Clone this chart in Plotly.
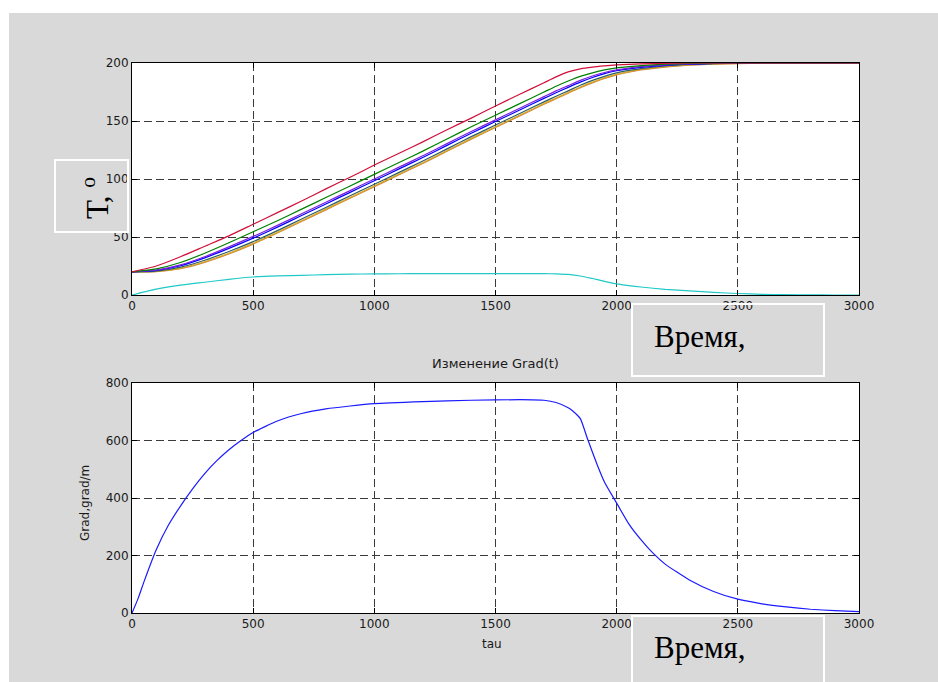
import plotly.graph_objects as go

# ---------------- data ----------------
t_top = [0, 100, 200, 300, 400, 500, 600, 700, 800, 900, 1000, 1100, 1200, 1300, 1400,
         1500, 1600, 1700, 1750, 1800, 1850, 1900, 1950, 2000, 2050, 2100, 2200, 2300, 2400, 2500,
         2600, 2700, 2800, 2900, 3000]

T_red = [20, 25, 33, 42, 51, 61, 71, 81, 91.5, 101.5, 112, 122, 132, 142.5, 152.5,
         163, 173, 183, 188, 192.3, 195, 196.5, 197.5, 198.3, 198.8, 199.2, 199.7, 200, 200, 200,
         200, 200, 200, 200, 200]
T_green = [20, 22.5, 28, 36, 45, 54.5, 64, 74, 84, 94, 104, 114, 124, 134.5, 145,
           155, 165, 175, 180, 184.5, 188.5, 191.5, 194, 195.8, 196.9, 197.8, 199, 199.6, 200, 200,
           200, 200, 200, 200, 200]
T_purple = [20, 21.5, 26, 33, 41.5, 50.5, 60, 70, 80, 90, 100, 110, 120, 130.5, 141,
            151, 161, 171, 176, 180.5, 185, 188.8, 191.8, 194, 195.6, 196.8, 198.4, 199.3, 199.8, 200,
            200, 200, 200, 200, 200]
T_blue = [20, 21.2, 25.2, 32, 40.2, 49, 58.5, 68.5, 78.5, 88.5, 98.5, 108.5, 118.5, 129, 139.5,
          149.5, 159.5, 169.5, 174.3, 179, 183.5, 187.5, 190.8, 193.3, 195, 196.3, 198, 199, 199.6, 199.9,
          200, 200, 200, 200, 200]
T_slate = [20, 20.5, 24, 30, 37.5, 46, 55.5, 65.5, 75.5, 85.5, 95.5, 105.5, 115.5, 126, 136.5,
           146.5, 156.5, 166.5, 171.3, 176, 180.8, 185, 188.5, 191.5, 193.6, 195.2, 197.4, 198.7, 199.4, 199.8,
           200, 200, 200, 200, 200]
T_orange = [20, 20.3, 23, 28.7, 36, 44.5, 54, 64, 74, 84, 94, 104, 114, 124.5, 135,
            145, 155, 165, 169.8, 174.5, 179.3, 183.5, 187.2, 190.3, 192.6, 194.4, 196.8, 198.3, 199.2, 199.6,
            199.9, 200, 200, 200, 200]
T_peru = [20, 20.1, 22.6, 28.1, 35.4, 43.9, 53.4, 63.4, 73.4, 83.4, 93.4, 103.4, 113.4, 123.9, 134.4,
          144.4, 154.4, 164.4, 169.2, 173.9, 178.7, 182.9, 186.6, 189.8, 192.1, 194, 196.5, 198.1, 199.1, 199.5,
          199.8, 200, 200, 200, 200]
T_cyan = [0, 5, 8.5, 11, 13.5, 15.5, 16.5, 17, 17.5, 18, 18.2, 18.3, 18.4, 18.5, 18.5,
          18.5, 18.5, 18.4, 18.2, 17.7, 16.4, 14.2, 11.8, 9.6, 8.1, 6.9, 4.9, 3.5, 2.2, 1.3,
          0.6, 0.3, 0.1, 0, 0]

t_grad = [0, 25, 50, 100, 150, 200, 250, 300, 350, 400, 450, 500, 600, 700, 800, 900, 1000,
          1200, 1400, 1600, 1700, 1750, 1800, 1820, 1850, 1880, 1920, 1950, 2000, 2050,
          2100, 2150, 2200, 2300, 2400, 2500, 2600, 2700, 2800, 2900, 3000]
grad = [0, 50, 110, 220, 305, 372, 432, 485, 530, 568, 600, 628, 668, 694, 710, 720, 728,
        735, 740, 742, 740, 732, 714, 702, 676, 605, 515, 455, 382, 310,
        255, 208, 170, 115, 75, 48, 32, 21, 13, 8, 5]

x_ticks = [0, 500, 1000, 1500, 2000, 2500, 3000]
y_ticks_top = [0, 50, 100, 150, 200]
y_ticks_bot = [0, 200, 400, 600, 800]

title_bottom = "Изменение Grad(t)"
xlabel_bottom = "tau"
ylabel_bottom = "Grad,grad/m"
ylabel_top = "Т, <sup>o</sup>"
time_label = "Время,"

# ---------------- figure ----------------
W, H = 938, 682
L, R, T, B = 132, 859, 63, 613


def px(p):
    return (p - L) / (R - L)


def py(p):
    return (B - p) / (B - T)


fig = go.Figure()

series = [
    (T_peru, "#cd853f"),
    (T_orange, "#daa520"),
    (T_slate, "#2f5f5f"),
    (T_blue, "#0000ff"),
    (T_purple, "#7b1fe0"),
    (T_green, "#008000"),
    (T_red, "#d0103a"),
]
for ys, c in series:
    fig.add_trace(go.Scatter(x=t_top, y=ys, mode="lines", line=dict(color=c, width=1.2, shape="spline", smoothing=0.6),
                             xaxis="x", yaxis="y", showlegend=False))
fig.add_trace(go.Scatter(x=t_top, y=T_cyan, mode="lines",
                         line=dict(color="#20c8c8", width=1.2, shape="spline", smoothing=0.6),
                         xaxis="x", yaxis="y", showlegend=False))
fig.add_trace(go.Scatter(x=t_grad, y=grad, mode="lines",
                         line=dict(color="#1a1aff", width=1.2, shape="spline", smoothing=0.5),
                         xaxis="x2", yaxis="y2", showlegend=False))

tickfont = dict(family="DejaVu Sans", size=12, color="#1a1a1a")
common = dict(showline=True, linecolor="black", linewidth=1, mirror="ticks",
              ticks="inside", ticklen=5, tickcolor="black", showgrid=True,
              gridcolor="#3a3a3a", griddash="8px,4px", gridwidth=1, zeroline=False,
              tickfont=tickfont, fixedrange=True)

top_dom = [py(295), 1.0]
bot_dom = [0.0, py(383)]

fig.update_layout(
    width=W, height=H,
    margin=dict(l=L, r=W - R, t=T, b=H - B, pad=0),
    paper_bgcolor="#d9d9d9",
    plot_bgcolor="white",
    hovermode=False,
    xaxis=dict(domain=[0, 1], range=[0, 3000], tickvals=x_ticks, anchor="y", **common),
    yaxis=dict(domain=top_dom, range=[0, 200], tickvals=y_ticks_top, anchor="x", **common),
    xaxis2=dict(domain=[0, 1], range=[0, 3000], tickvals=x_ticks, anchor="y2", **common),
    yaxis2=dict(domain=bot_dom, range=[0, 800], tickvals=y_ticks_bot, anchor="x2", **common),
)

shapes = [
    # white outer strips (left and top)
    dict(type="rect", xref="paper", yref="paper", x0=-0.5, x1=px(9), y0=-0.5, y1=1.5,
         fillcolor="white", line=dict(width=0)),
    dict(type="rect", xref="paper", yref="paper", x0=-0.5, x1=1.5, y0=py(13), y1=1.5,
         fillcolor="white", line=dict(width=0)),
    # label boxes
    dict(type="rect", xref="paper", yref="paper", x0=px(55), x1=px(128), y0=py(232), y1=py(160),
         fillcolor="rgba(0,0,0,0)", line=dict(color="white", width=2)),
    dict(type="rect", xref="paper", yref="paper", x0=px(632), x1=px(824), y0=py(376), y1=py(304),
         fillcolor="rgba(0,0,0,0)", line=dict(color="white", width=2)),
    dict(type="rect", xref="paper", yref="paper", x0=px(632), x1=px(824), y0=py(720), y1=py(616),
         fillcolor="rgba(0,0,0,0)", line=dict(color="white", width=2)),
]
fig.update_layout(shapes=shapes)

small = dict(family="DejaVu Sans", size=12, color="#1a1a1a")
serif = dict(family="Liberation Serif", size=31, color="black")
annotations = [
    dict(text=title_bottom, x=px(495), y=py(363), font=dict(family="DejaVu Sans", size=13, color="#1a1a1a")),
    dict(text=xlabel_bottom, x=px(492), y=py(644), font=small),
    dict(text=ylabel_bottom, x=px(85), y=py(503), font=small, textangle=-90),
    dict(text=ylabel_top, x=px(95), y=py(198), font=serif, textangle=-90),
    dict(text=time_label, x=px(652), y=py(336), font=serif, xanchor="left"),
    dict(text=time_label, x=px(652), y=py(647), font=serif, xanchor="left"),
]
for a in annotations:
    a.setdefault("xanchor", "center")
    a.update(xref="paper", yref="paper", yanchor="middle", showarrow=False)
fig.update_layout(annotations=annotations)

fig.write_html(
    "out.html",
    config={"displayModeBar": False, "staticPlot": True},
    post_script="document.body.style.margin='0';document.body.style.overflow='hidden';",
)
